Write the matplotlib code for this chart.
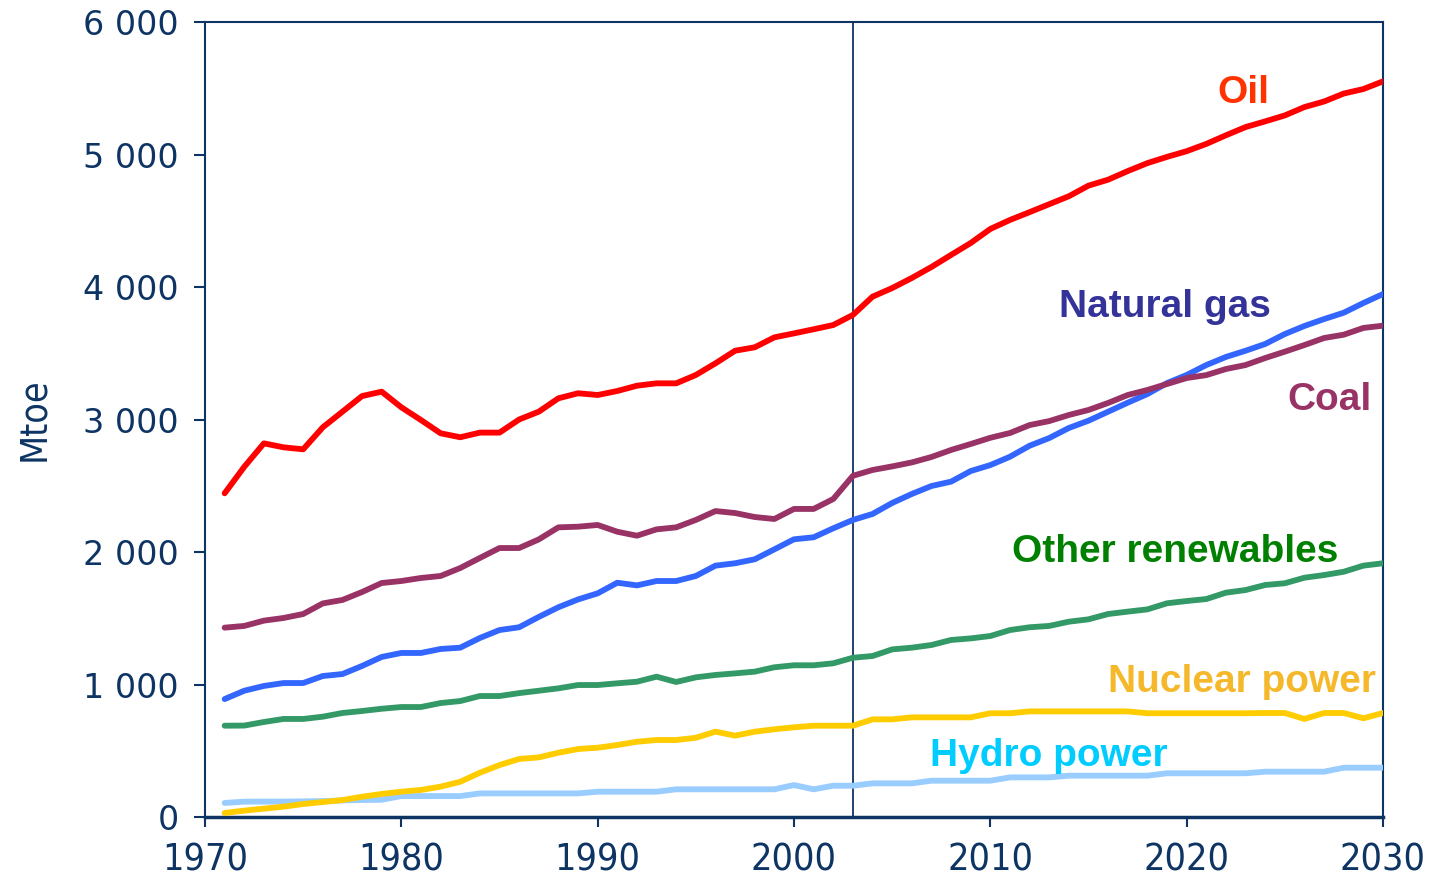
import os
import matplotlib
matplotlib.use("Agg")
import matplotlib.pyplot as plt
from matplotlib import font_manager as fm

years = list(range(1971, 2031))

oil = [2443, 2643, 2820, 2790, 2775, 2941, 3059, 3177, 3210, 3092,
       2996, 2896, 2866, 2901, 2901, 3000, 3059, 3160, 3198, 3185,
       3215, 3255, 3273, 3273, 3336, 3424, 3519, 3545, 3620, 3650,
       3681, 3713, 3789, 3927, 3992, 4068, 4151, 4242, 4332, 4438,
       4506, 4565, 4625, 4685, 4765, 4810, 4875, 4935, 4982, 5025,
       5080, 5145, 5207, 5250, 5295, 5358, 5400, 5460, 5494, 5552]

coal = [1429, 1442, 1482, 1502, 1532, 1612, 1638, 1698, 1766, 1781,
        1804, 1819, 1879, 1955, 2030, 2030, 2095, 2186, 2191, 2204,
        2153, 2123, 2171, 2186, 2242, 2309, 2294, 2264, 2249, 2325,
        2325, 2400, 2575, 2619, 2646, 2676, 2717, 2770, 2815, 2862,
        2898, 2958, 2988, 3034, 3072, 3125, 3185, 3223, 3268, 3313,
        3335, 3381, 3411, 3464, 3512, 3562, 3615, 3640, 3691, 3708]

gas = [890, 953, 989, 1011, 1011, 1064, 1079, 1140, 1208, 1238,
       1238, 1268, 1278, 1351, 1411, 1432, 1510, 1583, 1642, 1688,
       1768, 1748, 1781, 1781, 1819, 1897, 1915, 1945, 2020, 2096,
       2111, 2179, 2242, 2287, 2370, 2438, 2498, 2531, 2611, 2656,
       2719, 2802, 2860, 2936, 2991, 3059, 3127, 3192, 3275, 3336,
       3411, 3472, 3519, 3570, 3645, 3706, 3758, 3806, 3879, 3947]

other_ren = [689, 690, 717, 740, 740, 757, 785, 800, 817, 830,
             830, 860, 875, 913, 913, 935, 953, 971, 996, 996,
             1009, 1021, 1059, 1019, 1054, 1072, 1084, 1097, 1130, 1145,
             1145, 1160, 1202, 1215, 1265, 1278, 1298, 1336, 1348, 1366,
             1411, 1432, 1442, 1474, 1492, 1532, 1550, 1567, 1613, 1630,
             1645, 1693, 1713, 1751, 1764, 1806, 1826, 1851, 1897, 1915]

nuclear = [30, 48, 63, 78, 98, 113, 128, 153, 174, 191,
           204, 229, 266, 334, 392, 438, 450, 485, 513, 523,
           543, 568, 581, 581, 598, 644, 614, 644, 662, 677,
           689, 689, 689, 737, 737, 752, 752, 752, 752, 783,
           783, 797, 797, 797, 797, 797, 797, 783, 783, 783,
           783, 783, 783, 785, 785, 740, 785, 785, 745, 785]

hydro = [106, 116, 116, 116, 118, 120, 125, 128, 130, 158,
         158, 158, 158, 178, 178, 178, 178, 178, 178, 191,
         191, 191, 191, 209, 209, 209, 209, 209, 209, 241,
         209, 236, 236, 254, 254, 254, 274, 274, 274, 274,
         299, 299, 299, 312, 312, 312, 312, 312, 330, 330,
         330, 330, 330, 342, 342, 342, 342, 372, 372, 372]

series_names = ["Oil", "Natural gas", "Coal", "Other renewables", "Nuclear power", "Hydro power"]
line_colors = ["#FF0000", "#3366FF", "#993366", "#339966", "#FFCC00", "#99CCFF"]
label_colors = ["#FF3300", "#333399", "#993366", "#008000", "#F5B82A", "#00CCFF"]
label_pos = [(2022.9, 5389), (2018.9, 3774), (2027.3, 3072), (2019.4, 1925), (2022.8, 946), (2013.0, 387)]

x_ticks = [1970, 1980, 1990, 2000, 2010, 2020, 2030]
y_ticks = [0, 1000, 2000, 3000, 4000, 5000, 6000]
y_ticklabels = ["0", "1 000", "2 000", "3 000", "4 000", "5 000", "6 000"]
divider_year = 2003

navy = "#0D3463"


def find_condensed():
    prefs = ["liberationsansnarrow-regular", "liberationsans-narrow", "notosans-condensed.",
             "notosans-condensedregular", "dejavusanscondensed.", "robotocondensed-regular",
             "opensans-condensed", "roboto_condensed", "notosans-semicondensed."]
    entries = [(os.path.basename(f.fname).lower(), f) for f in fm.fontManager.ttflist]
    for p in prefs:
        for fn, f in entries:
            if fn.startswith(p) or p in fn:
                if "bold" in fn or "italic" in fn or "light" in fn:
                    continue
                return fm.FontProperties(fname=f.fname)
    for fn, f in entries:
        if ("narrow" in fn or "condensed" in fn) and "extra" not in fn and "bold" not in fn \
                and "italic" not in fn and "light" not in fn and "semi" not in fn:
            return fm.FontProperties(fname=f.fname)
    for f in fm.fontManager.ttflist:
        if f.stretch in ("condensed", "semi-condensed") and f.style == "normal" and f.weight in (400, "normal"):
            return fm.FontProperties(fname=f.fname)
    return None


cond = find_condensed()

fig = plt.figure(figsize=(14.32, 8.88), dpi=100)
ax = fig.add_axes([205/1432, 1 - 817/888, (1383-205)/1432, (817-22)/888])

data = [oil, gas, coal, other_ren, nuclear, hydro]
order = [5, 4, 3, 1, 2, 0]
for i in order:
    ax.plot(years, data[i], color=line_colors[i], lw=4.2, solid_joinstyle="round",
            solid_capstyle="round", zorder=3)

ax.axvline(divider_year, color=navy, lw=1.3, zorder=2)

for name, col, (xx, yy) in zip(series_names, label_colors, label_pos):
    ax.text(xx, yy, name, color=col, fontsize=28, fontweight="bold",
            family="Liberation Sans", ha="center", va="baseline", zorder=4)

ax.set_xlim(1970, 2030)
ax.set_ylim(0, 6000)
ax.set_xticks(x_ticks)
ax.set_xticklabels([str(t) for t in x_ticks], color=navy)
ax.set_yticks(y_ticks)
ax.set_yticklabels(y_ticklabels, family="DejaVu Sans", fontsize=24, color=navy)
ax.tick_params(axis="x", direction="out", length=7, width=1.5, color=navy, pad=11)
ax.tick_params(axis="y", direction="out", length=8, width=1.5, color=navy, pad=11)

for lbl in ax.get_xticklabels():
    if cond is not None:
        lbl.set_fontproperties(cond)
        lbl.set_fontsize(27)
    else:
        lbl.set_family("Liberation Sans")
        lbl.set_fontsize(24)

for side in ["left", "right", "top"]:
    ax.spines[side].set_color(navy)
    ax.spines[side].set_linewidth(1.5)
ax.spines["bottom"].set_color(navy)
ax.spines["bottom"].set_linewidth(2.5)

yl = ax.set_ylabel("Mtoe", color=navy, labelpad=22)
if cond is not None:
    yl.set_fontproperties(cond)
    yl.set_fontsize(27)
else:
    yl.set_family("Liberation Sans")
    yl.set_fontsize(24)

fig.savefig("out.png", dpi=100)
